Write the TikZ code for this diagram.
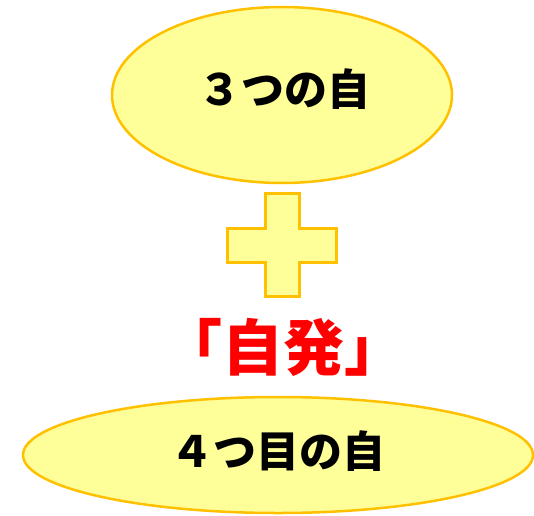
\documentclass[tikz,border=0pt]{standalone}
\usepackage{fontspec}
\newfontfamily\cjk{Noto Sans CJK JP}
\usetikzlibrary{shapes.geometric}
\definecolor{fillyel}{HTML}{FFFF99}
\definecolor{edgeyel}{HTML}{FFC000}
\definecolor{redtxt}{HTML}{FF0000}
\tikzset{
  bubble/.style={ellipse, draw=edgeyel, fill=fillyel, line width=2.5pt, inner sep=0pt},
  bigtext/.style={font=\cjk\bfseries\fontsize{43}{47}\selectfont, text=black, inner sep=0pt},
  redlabel/.style={font=\cjk\bfseries\fontsize{61}{65}\selectfont, text=redtxt, inner sep=0pt},
  plusshape/.style={draw=edgeyel, fill=fillyel, line width=3pt, line join=miter}
}
\begin{document}
\begin{tikzpicture}[x=1pt,y=1pt]
\useasboundingbox (0,0) rectangle (534,515);
% top ellipse
\node[bubble, minimum width=340pt, minimum height=176pt] (top) at (282,420) {};
\node[bigtext] (toptext) at (284,426) {３つの自};
% plus
\coordinate (pc) at (282,270);
\draw[plusshape] ([shift={(-17,51.5)}]pc) -- ([shift={(17,51.5)}]pc) -- ([shift={(17,17)}]pc)
  -- ([shift={(54.5,17)}]pc) -- ([shift={(54.5,-17)}]pc) -- ([shift={(17,-17)}]pc)
  -- ([shift={(17,-51.5)}]pc) -- ([shift={(-17,-51.5)}]pc) -- ([shift={(-17,-17)}]pc)
  -- ([shift={(-54.5,-17)}]pc) -- ([shift={(-54.5,17)}]pc) -- ([shift={(-17,17)}]pc) -- cycle;
% red text
\node[redlabel] (jihatsu) at (283,168) {「自発」};
% bottom ellipse
\node[bubble, minimum width=510pt, minimum height=116pt] (bottom) at (278,60) {};
\node[bigtext] (bottext) at (278,64) {４つ目の自};
\end{tikzpicture}
\end{document}
